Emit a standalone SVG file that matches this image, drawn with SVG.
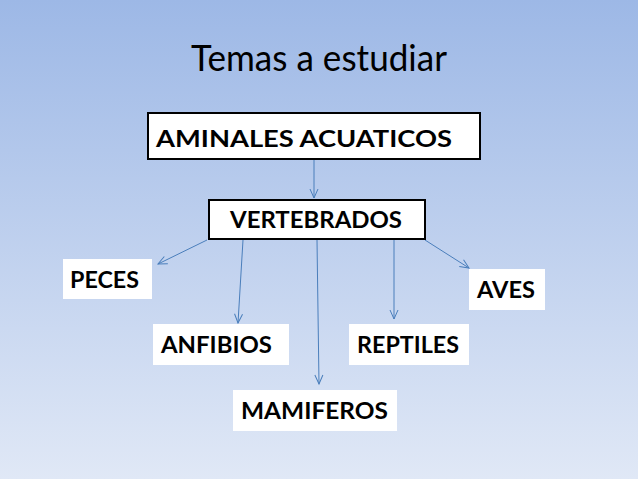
<svg xmlns="http://www.w3.org/2000/svg" width="638" height="479" viewBox="0 0 638 479">
<defs>
<linearGradient id="bg" x1="0" y1="0" x2="0" y2="1">
<stop offset="0" stop-color="#9db8e6"/>
<stop offset="1" stop-color="#e0e8f6"/>
</linearGradient>
<marker id="arr" markerWidth="12" markerHeight="10" refX="10" refY="5" orient="auto" markerUnits="userSpaceOnUse">
<path d="M1,1 L10,5 L1,9" fill="none" stroke="#4a7ebb" stroke-width="1"/>
</marker>
<style>
.t{font-family:Lato,"Open Sans","Liberation Sans",sans-serif;fill:#000}
.b{font-weight:bold;font-size:23.5px}
.box{fill:#fff}
.bb{fill:#fff;stroke:#000;stroke-width:2}
.c{stroke:#4a7ebb;stroke-width:1;fill:none;marker-end:url(#arr)}
</style>
</defs>
<rect width="638" height="479" fill="url(#bg)"/>
<text class="t" x="191" y="71" font-size="36.5" textLength="256" lengthAdjust="spacingAndGlyphs">Temas a estudiar</text>
<g id="connectors">
<line class="c" x1="314" y1="160" x2="314" y2="198"/>
<line class="c" x1="207" y1="240" x2="158" y2="264"/>
<line class="c" x1="243" y1="240" x2="238" y2="323"/>
<line class="c" x1="317" y1="240" x2="319" y2="384"/>
<line class="c" x1="394" y1="240" x2="394" y2="319"/>
<line class="c" x1="425" y1="240" x2="469" y2="268"/>
</g>
<g id="aminales">
<rect class="bb" x="148" y="113" width="332" height="46"/>
<text class="t b" x="156" y="147" font-size="28.5" textLength="296" lengthAdjust="spacingAndGlyphs">AMINALES ACUATICOS</text>
</g>
<g id="vertebrados">
<rect class="bb" x="209" y="200" width="216" height="39"/>
<text class="t b" x="230" y="228" font-size="22" textLength="172" lengthAdjust="spacingAndGlyphs">VERTEBRADOS</text>
</g>
<g id="peces">
<rect class="box" x="63" y="259" width="89" height="40"/>
<text class="t b" x="70" y="288" textLength="69" lengthAdjust="spacingAndGlyphs">PECES</text>
</g>
<g id="aves">
<rect class="box" x="469" y="269" width="76" height="41"/>
<text class="t b" x="477" y="298" textLength="58" lengthAdjust="spacingAndGlyphs">AVES</text>
</g>
<g id="anfibios">
<rect class="box" x="153" y="324" width="136" height="41"/>
<text class="t b" x="161" y="353" textLength="111" lengthAdjust="spacingAndGlyphs">ANFIBIOS</text>
</g>
<g id="reptiles">
<rect class="box" x="349" y="324" width="120" height="41"/>
<text class="t b" x="357" y="353" textLength="102" lengthAdjust="spacingAndGlyphs">REPTILES</text>
</g>
<g id="mamiferos">
<rect class="box" x="233" y="390" width="164" height="41"/>
<text class="t b" x="241" y="419" textLength="147" lengthAdjust="spacingAndGlyphs">MAMIFEROS</text>
</g>
</svg>
